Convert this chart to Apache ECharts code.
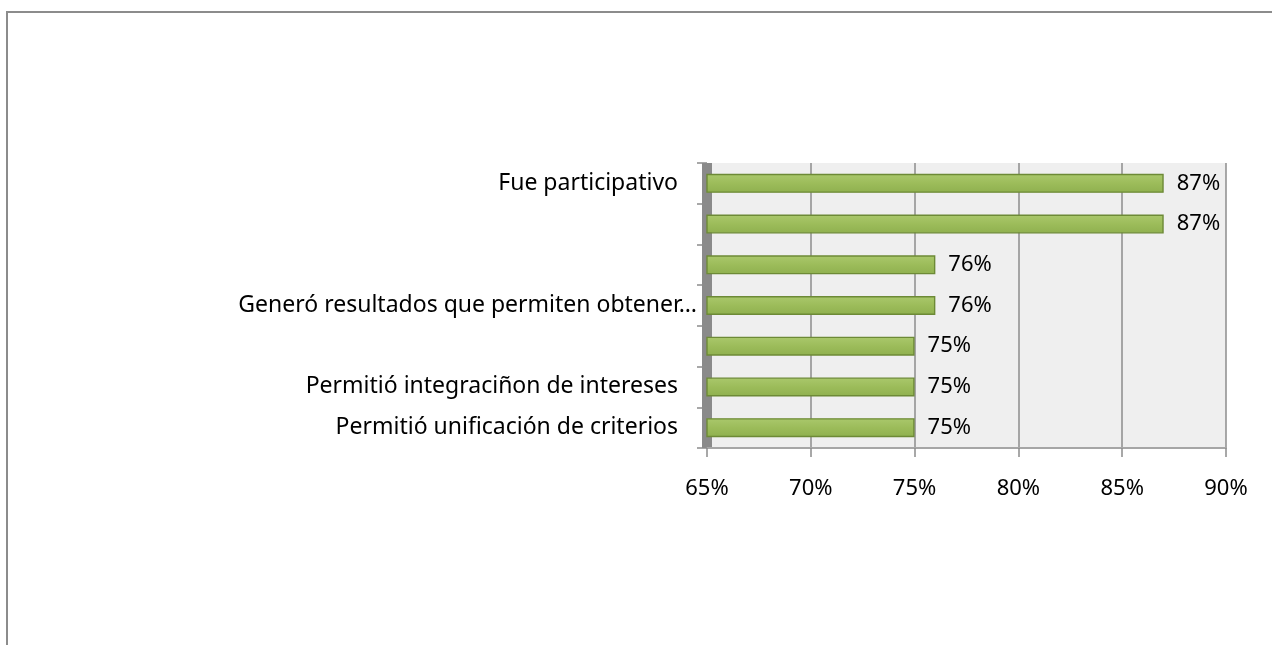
<!DOCTYPE html>
<html>
<head>
<meta charset="utf-8">
<script src="https://cdn.jsdelivr.net/npm/echarts@6/dist/echarts.min.js"></script>
<style>
    html, body { margin: 0; padding: 0; background: #fff; overflow: hidden; }
    .frame {
        position: absolute; left: 6px; top: 11px;
        width: 1300px; height: 700px;
        border: 2px solid #8c8c8c;
    }
    #main { position: absolute; left: 0; top: 0; width: 1272px; height: 645px; }
</style>
</head>
<body>
<div class="frame"></div>
<div id="main"></div>
<script>
// categorias, de arriba hacia abajo
const categorias = [
    'Fue participativo',
    '',
    '',
    'Generó resultados que permiten obtener…',
    '',
    'Permitió integraciñon de intereses',
    'Permitió unificación de criterios'
];
const valores = [87, 87, 76, 76, 75, 75, 75];
const ejeMin = 65;
const ejeMax = 90;
const ejePaso = 5;

const myChart = echarts.init(document.getElementById('main'));
let option;

option = {
    animation: false,
    textStyle: { fontFamily: 'Noto Sans' },
    grid: {
        left: 707,
        top: 163,
        width: 519,
        height: 285,
        show: true,
        backgroundColor: '#efefef',
        borderWidth: 0
    },
    xAxis: {
        type: 'value',
        min: ejeMin,
        max: ejeMax,
        interval: ejePaso,
        axisLine: { show: true, lineStyle: { color: '#a6a6a6', width: 2 } },
        axisTick: { show: true, length: 9, lineStyle: { color: '#8c8c8c', width: 1.5 } },
        axisLabel: {
            margin: 30,
            fontSize: 22,
            color: '#000',
            formatter: function (value) {
                return value + '%';
            }
        },
        // lineas de division
        splitLine: { show: true, lineStyle: { color: '#8c8c8c', width: 1.5 } }
    },
    yAxis: {
        type: 'category',
        inverse: true,
        data: categorias,
        // pared gris a la izquierda
        axisLine: { show: true, lineStyle: { color: '#8a8a8a', width: 10, cap: 'butt' } },
        axisTick: { show: true, length: 10, lineStyle: { color: '#8c8c8c', width: 1.5 } },
        axisLabel: {
            margin: 10,
            fontSize: 23,
            color: '#000',
            formatter: function (value) {
                if (value.endsWith('…')) {
                    return '{b|' + value + '}';
                }
                return '{a|' + value + '}';
            },
            rich: {
                a: { fontSize: 23, color: '#000', padding: [0, 19, 0, 0] },
                b: { fontSize: 23, color: '#000' }
            }
        },
        splitLine: { show: false }
    },
    series: [
        {
            type: 'bar',
            data: valores,
            barWidth: 19,
            itemStyle: {
                color: new echarts.graphic.LinearGradient(0, 0, 0, 1, [
                    { offset: 0, color: '#aac86c' },
                    { offset: 0.5, color: '#9cbc5a' },
                    { offset: 1, color: '#8fb04f' }
                ]),
                borderColor: '#6d8a36',
                borderWidth: 1.4
            },
            label: {
                show: true,
                position: 'right',
                distance: 13,
                fontSize: 22,
                color: '#000',
                formatter: '{c}%'
            }
        }
    ]
};
option && myChart.setOption(option);
</script>
</body>
</html>
